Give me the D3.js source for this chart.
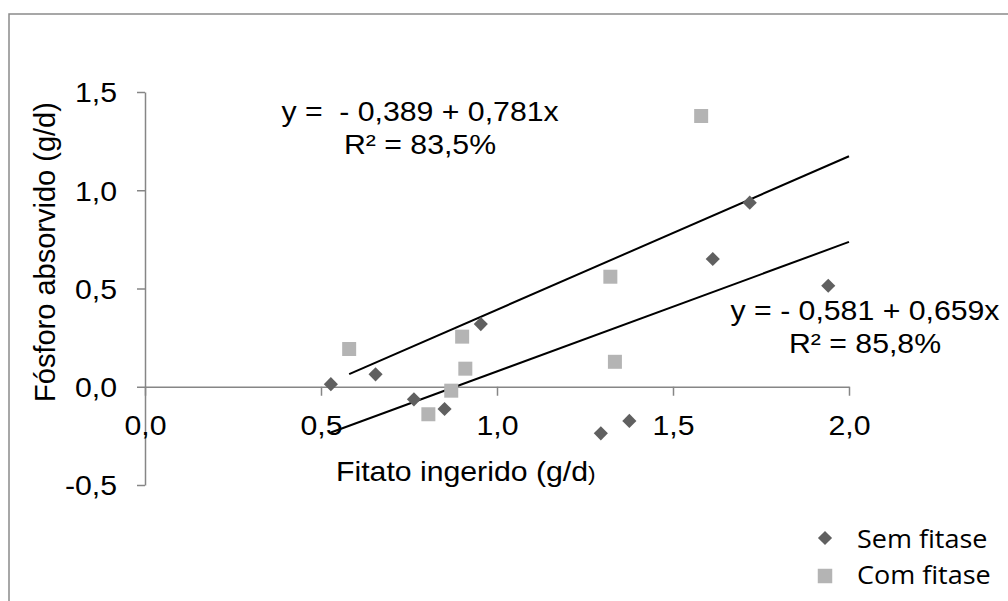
<!DOCTYPE html>
<html>
<head>
<meta charset="utf-8">
<script src="https://cdn.jsdelivr.net/npm/d3@7"></script>
<style>
	body { margin: 0; background: #fff; }
	svg { display: block; }
	text { white-space: pre; }
</style>
</head>
<body>
<div id="app"></div>
<script>
// valores
const semFitaseX = [0.528, 0.655, 0.764, 0.851, 0.954, 1.295, 1.376, 1.613, 1.718, 1.941];
const semFitaseY = [0.013, 0.063, -0.064, -0.113, 0.319, -0.237, -0.174, 0.650, 0.937, 0.514];
const comFitaseX = [0.580, 0.805, 0.870, 0.901, 0.910, 1.322, 1.335, 1.580];
const comFitaseY = [0.192, -0.140, -0.020, 0.255, 0.092, 0.560, 0.127, 1.378];

const xTicks = [0, 0.5, 1.0, 1.5, 2.0];
const yTicks = [-0.5, 0, 0.5, 1.0, 1.5];
const seriesNames = ["Sem fitase", "Com fitase"];

// [intercepto, inclinacao]
const regressaoSem = [-0.581, 0.659];
const regressaoCom = [-0.389, 0.781];
const equacaoSem = ["y = - 0,581 + 0,659x", "R² = 85,8%"];
const equacaoCom = ["y =  - 0,389 + 0,781x", "R² = 83,5%"];

const config = {
	width: 1008,
	height: 601,
	plot: { left: 145, right: 849, top: 92, bottom: 485 },
	color: {
		sem: "#606060",
		com: "#b4b4b4",
		axis: "#868686",
		frame: "#8a8a8a",
	},
	font: "Arial, 'Liberation Sans', sans-serif",
	legendFont: "'Open Sans', sans-serif",
	fontSize: 28,
	stretch: 1.08
}

const fmt = v => v.toFixed(1).replace(".", ",");

// texto um pouco mais largo, como na figura original
function stretchText(sel) {
	sel.each(function() {
		const t = d3.select(this);
		const x = +t.attr("x") || 0;
		const y = +t.attr("y") || 0;
		t.attr("x", null).attr("y", null)
			.attr("transform", `translate(${x},${y}) scale(${config.stretch},1)`);
	});
}

const svg = d3.select("#app").append("svg")
	.attr("width", config.width)
	.attr("height", config.height)

svg.append("rect")
	.attr("x", 9).attr("y", 14)
	.attr("width", 1200).attr("height", 800)
	.attr("fill", "none")
	.attr("stroke", config.color.frame)
	.attr("stroke-width", 1.5)

const x = d3.scaleLinear().domain([0, 2]).range([config.plot.left, config.plot.right]);
const y = d3.scaleLinear().domain([-0.5, 1.5]).range([config.plot.bottom, config.plot.top]);

// eixo y
const yAxis = svg.append("g")
	.attr("transform", `translate(${x(0)},0)`)
	.call(d3.axisLeft(y).tickValues(yTicks).tickFormat(fmt).tickSize(8).tickSizeOuter(0).tickPadding(20))
yAxis.attr("color", config.color.axis)
yAxis.selectAll("path, line").attr("stroke-width", 1.5)
yAxis.selectAll("text")
	.attr("fill", "#000")
	.attr("font-family", config.font)
	.attr("font-size", config.fontSize)
	.attr("dy", "0.35em")
	.call(stretchText)

// eixo x cruzando em y = 0
const xAxis = svg.append("g")
	.attr("transform", `translate(0,${y(0)})`)
	.call(d3.axisBottom(x).tickValues(xTicks).tickFormat(fmt).tickSize(9).tickSizeOuter(0).tickPadding(19))
xAxis.attr("color", config.color.axis)
xAxis.selectAll("path, line").attr("stroke-width", 1.5)
xAxis.selectAll("text")
	.attr("fill", "#000")
	.attr("font-family", config.font)
	.attr("font-size", config.fontSize)
	.call(stretchText)

// linhas de tendencia
function trendLine(coef, xs) {
	const x0 = d3.min(xs), x1 = d3.max(xTicks);
	return [[x0, coef[0] + coef[1] * x0], [x1, coef[0] + coef[1] * x1]];
}

const line = d3.line().x(d => x(d[0])).y(d => y(d[1]));

svg.append("g")
	.selectAll("path")
	.data([trendLine(regressaoCom, comFitaseX), trendLine(regressaoSem, semFitaseX)])
	.enter()
	.append("path")
	.attr("d", line)
	.attr("fill", "none")
	.attr("stroke", "#000")
	.attr("stroke-width", 2)

// pontos
const diamond = d3.symbol(d3.symbolSquare, 100)();
const square = d3.symbol(d3.symbolSquare, 196)();

svg.append("g")
	.selectAll("path")
	.data(semFitaseX.map((v, i) => [v, semFitaseY[i]]))
	.enter()
	.append("path")
	.attr("d", diamond)
	.attr("transform", d => `translate(${x(d[0])},${y(d[1])}) rotate(45)`)
	.attr("fill", config.color.sem)

svg.append("g")
	.selectAll("path")
	.data(comFitaseX.map((v, i) => [v, comFitaseY[i]]))
	.enter()
	.append("path")
	.attr("d", square)
	.attr("transform", d => `translate(${x(d[0])},${y(d[1])})`)
	.attr("fill", config.color.com)

// equacoes
function equation(lines, cx, baseline) {
	svg.append("g")
		.selectAll("text")
		.data(lines)
		.enter()
		.append("text")
		.attr("x", cx)
		.attr("y", (d, i) => baseline + i * 33)
		.attr("text-anchor", "middle")
		.attr("font-family", config.font)
		.attr("font-size", config.fontSize)
		.text(d => d)
		.call(stretchText)
}

equation(equacaoCom, 420, 121);
equation(equacaoSem, 865, 320);

// titulos dos eixos
const xLabel = svg.append("text")
	.attr("x", 336)
	.attr("y", 481)
	.attr("font-family", config.font)
	.attr("font-size", config.fontSize)
	.text("Fitato ingerido (g/d")
xLabel.append("tspan").attr("font-size", 21).text(")")
xLabel.call(stretchText)

svg.append("text")
	.attr("transform", "translate(55,252) rotate(-90)")
	.attr("text-anchor", "middle")
	.attr("font-family", config.font)
	.attr("font-size", 29)
	.text("Fósforo absorvido (g/d)")

// legenda
const legend = svg.append("g")
	.selectAll("g")
	.data(seriesNames)
	.enter()
	.append("g")
	.attr("transform", (d, i) => `translate(825,${538 + i * 38})`)

legend.append("path")
	.attr("d", (d, i) => i ? d3.symbol(d3.symbolSquare, 210)() : diamond)
	.attr("transform", (d, i) => i ? null : "rotate(45)")
	.attr("fill", (d, i) => i ? config.color.com : config.color.sem)

legend.append("text")
	.attr("x", 32)
	.attr("y", (d, i) => 10 - i * 2)
	.attr("font-family", config.legendFont)
	.attr("font-size", 25)
	.text(d => d)
	.call(stretchText)
</script>
</body>
</html>
